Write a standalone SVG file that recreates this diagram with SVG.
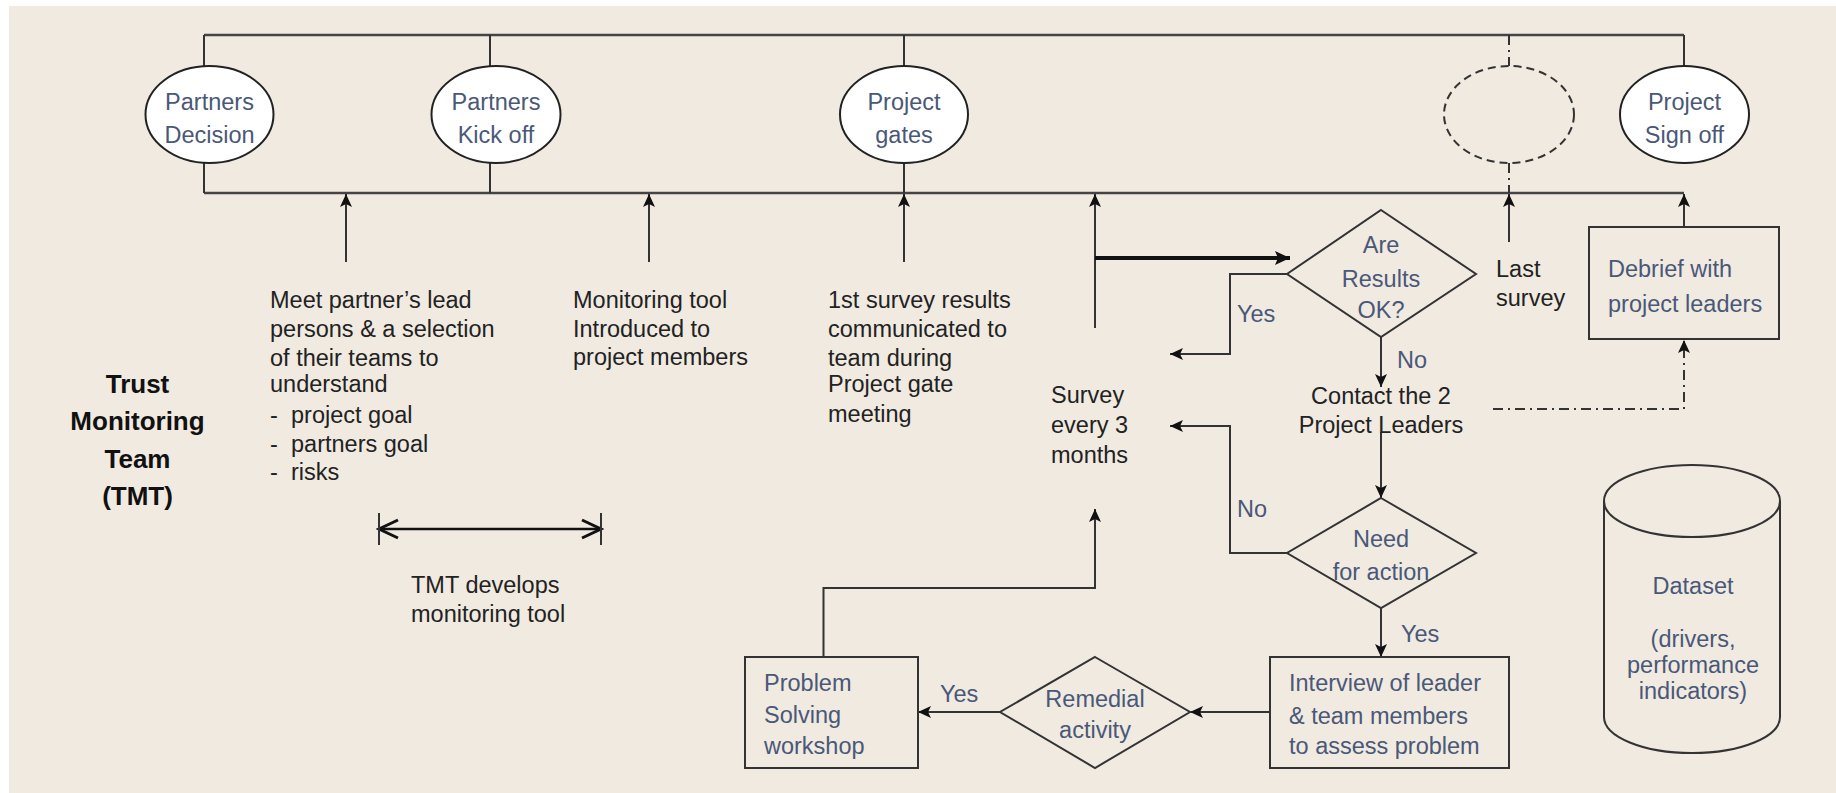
<svg xmlns="http://www.w3.org/2000/svg" width="1836" height="793" viewBox="0 0 1836 793">
<defs>
<marker id="ah" markerUnits="userSpaceOnUse" markerWidth="14" markerHeight="12" refX="13" refY="6" orient="auto">
<path d="M0,0 L13,6 L0,12 L3,6 z" fill="#111"/>
</marker>
<marker id="ahb" markerUnits="userSpaceOnUse" markerWidth="16" markerHeight="14" refX="15" refY="7" orient="auto">
<path d="M0,0 L15,7 L0,14 L3,7 z" fill="#111"/>
</marker>
<marker id="chev" markerUnits="userSpaceOnUse" markerWidth="24" markerHeight="22" refX="21" refY="11" orient="auto-start-reverse">
<path d="M2,2 L21,11 L2,20" fill="none" stroke="#111" stroke-width="3"/>
</marker>
</defs>
<style>
.ln{fill:none;stroke:#333;stroke-width:2}
.tl{fill:none;stroke:#444;stroke-width:2.5}
.thick{fill:none;stroke:#111;stroke-width:4}
.dd{fill:none;stroke:#333;stroke-width:2;stroke-dasharray:10 5 2 5}
.ell{fill:#fff;stroke:#222;stroke-width:2}
.dell{fill:none;stroke:#333;stroke-width:2;stroke-dasharray:8 5}
.shp{fill:none;stroke:#333;stroke-width:2}
text{font-family:"Liberation Sans",Arial,sans-serif;font-size:23.5px}
.lb{fill:#4a5878}
.tx{fill:#222}
.c{text-anchor:middle}
.ttl{font-weight:bold;font-size:26px;fill:#111;text-anchor:middle}
</style>
<rect x="9" y="6" width="1827" height="787" fill="#f0eae1"/>

<g id="connectors">
<line class="tl" x1="204" y1="35" x2="1684" y2="35"/>
<line class="tl" x1="204" y1="193" x2="1684" y2="193"/>
<line class="ln" x1="204" y1="35" x2="204" y2="193"/>
<line class="ln" x1="490" y1="35" x2="490" y2="193"/>
<line class="ln" x1="904" y1="35" x2="904" y2="193"/>
<line class="ln" x1="1684" y1="35" x2="1684" y2="70"/>
<line class="dd" x1="1509" y1="35" x2="1509" y2="66"/>
<line class="dd" x1="1509" y1="163" x2="1509" y2="193"/>
<line class="ln" x1="346" y1="262" x2="346" y2="194" marker-end="url(#ah)"/>
<line class="ln" x1="649" y1="262" x2="649" y2="194" marker-end="url(#ah)"/>
<line class="ln" x1="904" y1="262" x2="904" y2="194" marker-end="url(#ah)"/>
<line class="ln" x1="1095" y1="328" x2="1095" y2="194" marker-end="url(#ah)"/>
<line class="ln" x1="1509" y1="242" x2="1509" y2="194" marker-end="url(#ah)"/>
<line class="ln" x1="1684" y1="227" x2="1684" y2="194" marker-end="url(#ah)"/>
<line class="thick" x1="1095" y1="258" x2="1290" y2="258" marker-end="url(#ahb)"/>
<polyline class="ln" points="1287,274 1230,274 1230,354 1170,354" marker-end="url(#ah)"/>
<line class="ln" x1="1381" y1="337" x2="1381" y2="387" marker-end="url(#ah)"/>
<line class="ln" x1="1381" y1="432" x2="1381" y2="498" marker-end="url(#ah)"/>
<polyline class="dd" points="1493,409 1684,409 1684,340" marker-end="url(#ah)"/>
<polyline class="ln" points="1287,553 1230,553 1230,426 1170,426" marker-end="url(#ah)"/>
<line class="ln" x1="1381" y1="608" x2="1381" y2="657" marker-end="url(#ah)"/>
<line class="ln" x1="1270" y1="712" x2="1190" y2="712" marker-end="url(#ah)"/>
<line class="ln" x1="1000" y1="712" x2="918" y2="712" marker-end="url(#ah)"/>
<polyline class="ln" points="823.5,657 823.5,588 1095,588 1095,509" marker-end="url(#ah)"/>
<line x1="379" y1="529" x2="601" y2="529" stroke="#111" stroke-width="2.5" marker-start="url(#chev)" marker-end="url(#chev)"/>
<line class="ln" x1="379" y1="513" x2="379" y2="545"/>
<line class="ln" x1="601" y1="513" x2="601" y2="545"/>
</g>

<g id="partners-decision">
<ellipse class="ell" cx="209.5" cy="114.5" rx="64" ry="48.5"/>
<text class="lb c" x="209.5" y="110">Partners</text>
<text class="lb c" x="209.5" y="143">Decision</text>
</g>
<g id="partners-kickoff">
<ellipse class="ell" cx="496" cy="114.5" rx="64.5" ry="48.5"/>
<text class="lb c" x="496" y="110">Partners</text>
<text class="lb c" x="496" y="143">Kick off</text>
</g>
<g id="project-gates">
<ellipse class="ell" cx="904" cy="114.5" rx="64" ry="48.5"/>
<text class="lb c" x="904" y="110">Project</text>
<text class="lb c" x="904" y="143">gates</text>
</g>
<g id="blank-milestone">
<ellipse class="dell" cx="1509" cy="114.5" rx="65" ry="48.5"/>
</g>
<g id="project-signoff">
<ellipse class="ell" cx="1684.5" cy="114.5" rx="64.5" ry="48.5"/>
<text class="lb c" x="1684.5" y="110">Project</text>
<text class="lb c" x="1684.5" y="143">Sign off</text>
</g>

<g id="tmt-title">
<text class="ttl" x="137.5" y="393">Trust</text>
<text class="ttl" x="137.5" y="430">Monitoring</text>
<text class="ttl" x="137.5" y="468">Team</text>
<text class="ttl" x="137.5" y="505">(TMT)</text>
</g>

<g id="meet-partners">
<text class="tx" x="270" y="308">Meet partner’s lead</text>
<text class="tx" x="270" y="337">persons &amp; a selection</text>
<text class="tx" x="270" y="366">of their teams to</text>
<text class="tx" x="270" y="392">understand</text>
<text class="tx" x="270" y="423">-</text><text class="tx" x="291" y="423">project goal</text>
<text class="tx" x="270" y="452">-</text><text class="tx" x="291" y="452">partners goal</text>
<text class="tx" x="270" y="480">-</text><text class="tx" x="291" y="480">risks</text>
</g>

<g id="tmt-develops">
<text class="tx" x="411" y="593">TMT develops</text>
<text class="tx" x="411" y="622">monitoring tool</text>
</g>

<g id="monitoring-tool">
<text class="tx" x="573" y="308">Monitoring tool</text>
<text class="tx" x="573" y="337">Introduced to</text>
<text class="tx" x="573" y="365">project members</text>
</g>

<g id="first-survey">
<text class="tx" x="828" y="308">1st survey results</text>
<text class="tx" x="828" y="337">communicated to</text>
<text class="tx" x="828" y="366">team during</text>
<text class="tx" x="828" y="392">Project gate</text>
<text class="tx" x="828" y="422">meeting</text>
</g>

<g id="survey">
<text class="tx" x="1051" y="403">Survey</text>
<text class="tx" x="1051" y="433">every 3</text>
<text class="tx" x="1051" y="463">months</text>
</g>

<g id="results-ok">
<polygon class="shp" points="1381,210 1476,274 1381,337 1287,274"/>
<text class="lb c" x="1381" y="253">Are</text>
<text class="lb c" x="1381" y="287">Results</text>
<text class="lb c" x="1381" y="318">OK?</text>
</g>
<g id="results-labels">
<text class="lb" x="1237" y="322">Yes</text>
<text class="lb" x="1397" y="368">No</text>
</g>

<g id="last-survey">
<text class="tx" x="1496" y="277">Last</text>
<text class="tx" x="1496" y="306">survey</text>
</g>

<g id="debrief">
<rect class="shp" x="1589" y="227" width="190" height="112"/>
<text class="lb" x="1608" y="277">Debrief with</text>
<text class="lb" x="1608" y="312">project leaders</text>
</g>

<g id="contact-leaders">
<text class="tx c" x="1381" y="404">Contact the 2</text>
<text class="tx c" x="1381" y="433">Project Leaders</text>
</g>

<g id="need-action">
<polygon class="shp" points="1381,498 1476,553 1381,608 1287,553"/>
<text class="lb c" x="1381" y="547">Need</text>
<text class="lb c" x="1381" y="580">for action</text>
</g>
<g id="need-labels">
<text class="lb" x="1237" y="517">No</text>
<text class="lb" x="1401" y="642">Yes</text>
</g>

<g id="interview">
<rect class="shp" x="1270" y="657" width="239" height="111"/>
<text class="lb" x="1289" y="691">Interview of leader</text>
<text class="lb" x="1289" y="724">&amp; team members</text>
<text class="lb" x="1289" y="754">to assess problem</text>
</g>

<g id="remedial">
<polygon class="shp" points="1095,657 1190,712 1095,768 1000,712"/>
<text class="lb c" x="1095" y="707">Remedial</text>
<text class="lb c" x="1095" y="738">activity</text>
</g>
<g id="remedial-label">
<text class="lb" x="940" y="702">Yes</text>
</g>

<g id="problem-solving">
<rect class="shp" x="745" y="657" width="173" height="111"/>
<text class="lb" x="764" y="691">Problem</text>
<text class="lb" x="764" y="723">Solving</text>
<text class="lb" x="764" y="754">workshop</text>
</g>

<g id="dataset">
<path class="shp" d="M1604,501 L1604,717 A88,36 0 0 0 1780,717 L1780,501"/>
<ellipse class="shp" cx="1692" cy="501" rx="88" ry="36"/>
<text class="lb c" x="1693" y="594">Dataset</text>
<text class="lb c" x="1693" y="647">(drivers,</text>
<text class="lb c" x="1693" y="673">performance</text>
<text class="lb c" x="1693" y="699">indicators)</text>
</g>
</svg>
